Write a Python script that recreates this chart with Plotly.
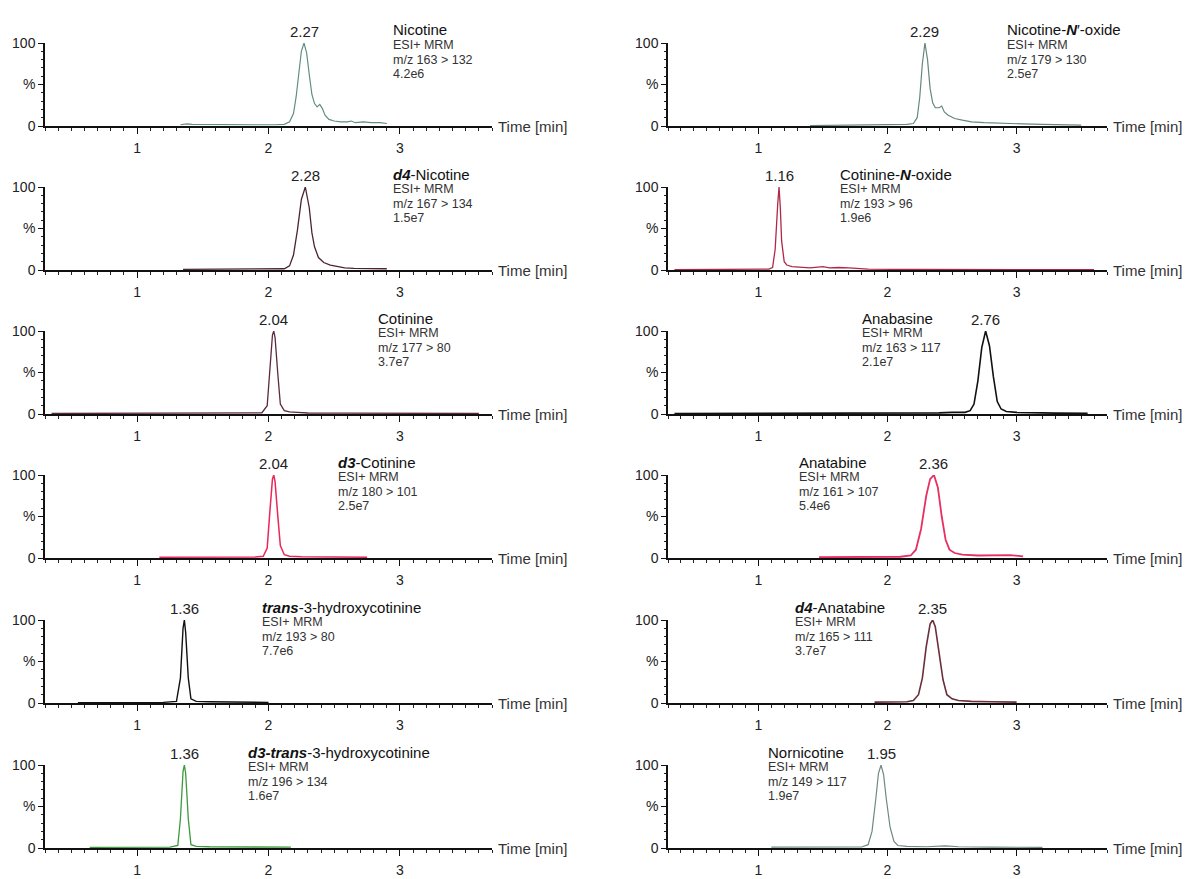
import plotly.graph_objects as go

# ---------------------------------------------------------------
# Extracted-ion chromatograms (ESI+ MRM), relative intensity in %
# ---------------------------------------------------------------

compound_names = [
    "Nicotine", "Nicotine-<b><i>N</i></b>′-oxide",
    "<b><i>d4</i></b>-Nicotine", "Cotinine-<b><i>N</i></b>-oxide",
    "Cotinine", "Anabasine",
    "<b><i>d3</i></b>-Cotinine", "Anatabine",
    "<b><i>trans</i></b>-3-hydroxycotinine", "<b><i>d4</i></b>-Anatabine",
    "<b><i>d3-trans</i></b>-3-hydroxycotinine", "Nornicotine",
]
transitions = [
    "163 > 132", "179 > 130",
    "167 > 134", "193 > 96",
    "177 > 80", "163 > 117",
    "180 > 101", "161 > 107",
    "193 > 80", "165 > 111",
    "196 > 134", "149 > 117",
]
abundances = [
    "4.2e6", "2.5e7",
    "1.5e7", "1.9e6",
    "3.7e7", "2.1e7",
    "2.5e7", "5.4e6",
    "7.7e6", "3.7e7",
    "1.6e7", "1.9e7",
]
retention_times = [2.27, 2.29, 2.28, 1.16, 2.04, 2.76, 2.04, 2.36, 1.36, 2.35, 1.36, 1.95]

x_ticks = [1, 2, 3]
y_ticks = [0, 50, 100]
y_tick_text = ["0", "%", "100"]

# chromatogram traces: time [min] / relative abundance [%]
t_nicotine = [1.33, 1.38, 1.42, 1.50, 1.70, 1.90, 2.05, 2.12, 2.16, 2.19, 2.21, 2.23, 2.25, 2.27,
              2.29, 2.31, 2.33, 2.35, 2.37, 2.39, 2.41, 2.43, 2.46, 2.50, 2.55, 2.60, 2.63, 2.66,
              2.72, 2.78, 2.85, 2.90]
i_nicotine = [1.5, 2.5, 2.0, 1.8, 1.5, 1.5, 1.5, 2.0, 5, 15, 35, 65, 90, 100,
              88, 62, 38, 27, 23, 26, 21, 13, 8, 6, 5, 5, 6, 4,
              5, 4, 4, 3]

t_nicotine_oxide = [1.40, 1.60, 1.80, 1.95, 2.05, 2.15, 2.20, 2.23, 2.25, 2.27, 2.29, 2.31, 2.33,
                    2.35, 2.37, 2.40, 2.42, 2.44, 2.47, 2.52, 2.58, 2.65, 2.75, 2.90, 3.05, 3.20,
                    3.35, 3.50]
i_nicotine_oxide = [0.5, 0.8, 1.0, 1.2, 1.5, 2, 3, 10, 35, 75, 100, 80, 45,
                    28, 22, 22, 24, 17, 13, 9, 7, 5, 4, 3, 2.5, 2,
                    1.5, 1]

t_d4_nicotine = [1.35, 1.50, 1.70, 1.90, 2.05, 2.12, 2.16, 2.19, 2.22, 2.25, 2.28, 2.31, 2.33,
                 2.35, 2.38, 2.42, 2.47, 2.52, 2.58, 2.65, 2.75, 2.85, 2.90]
i_d4_nicotine = [0.8, 0.8, 0.8, 0.8, 1.0, 1.5, 5, 18, 48, 85, 100, 75, 45,
                 28, 15, 9, 6, 4, 2.5, 2, 1.5, 1.5, 1.5]

t_cotinine_oxide = [0.35, 0.60, 0.80, 1.00, 1.08, 1.11, 1.13, 1.15, 1.16, 1.17, 1.18, 1.20, 1.22,
                    1.26, 1.32, 1.40, 1.46, 1.50, 1.55, 1.62, 1.70, 1.78, 1.85, 2.20, 2.80, 3.60]
i_cotinine_oxide = [0.5, 0.5, 0.5, 0.6, 1, 3, 25, 80, 100, 75, 35, 10, 6,
                    4, 3, 2.5, 3.5, 4, 2.5, 3, 2.5, 2, 1, 0.6, 0.5, 0.5]

t_cotinine = [0.35, 0.70, 1.00, 1.30, 1.60, 1.85, 1.95, 1.99, 2.01, 2.03, 2.04, 2.05, 2.07,
              2.09, 2.12, 2.16, 2.22, 2.30, 2.60, 3.00, 3.60]
i_cotinine = [0.6, 0.6, 0.7, 0.8, 0.8, 1.0, 1.5, 10, 55, 95, 100, 92, 50,
              12, 4, 2.5, 2, 1.2, 1, 0.8, 0.6]

t_anabasine = [0.35, 0.80, 1.30, 1.80, 2.10, 2.40, 2.50, 2.60, 2.64, 2.67, 2.70, 2.73, 2.76,
               2.79, 2.82, 2.85, 2.88, 2.92, 3.00, 3.10, 3.30, 3.55]
i_anabasine = [0.5, 0.5, 0.6, 1.0, 1.2, 1.3, 2.0, 2.0, 4, 12, 40, 80, 100,
               82, 45, 15, 6, 3, 2, 1.5, 1.0, 0.8]

t_d3_cotinine = [1.17, 1.40, 1.70, 1.90, 1.96, 1.99, 2.01, 2.03, 2.04, 2.05, 2.07, 2.09, 2.12,
                 2.16, 2.25, 2.45, 2.75]
i_d3_cotinine = [1.0, 1.0, 1.0, 1.2, 2, 12, 55, 95, 100, 92, 52, 15, 4,
                 2, 1.5, 1.2, 1.0]

t_anatabine = [1.47, 1.70, 1.95, 2.10, 2.18, 2.22, 2.26, 2.30, 2.33, 2.36, 2.39, 2.42, 2.45,
               2.48, 2.52, 2.58, 2.70, 2.85, 2.95, 3.05]
i_anatabine = [1.0, 1.2, 2.0, 1.5, 3, 10, 35, 75, 95, 100, 85, 50, 22,
               10, 6, 4, 3, 3, 3.5, 2]

t_hydroxycotinine = [0.55, 0.80, 1.00, 1.20, 1.30, 1.33, 1.35, 1.36, 1.37, 1.39, 1.41, 1.45,
                     1.55, 1.80, 2.00]
i_hydroxycotinine = [0.5, 0.5, 0.6, 0.8, 2, 30, 90, 100, 85, 30, 5, 2,
                     1.5, 1, 0.8]

t_d4_anatabine = [1.90, 2.05, 2.15, 2.20, 2.24, 2.27, 2.30, 2.33, 2.35, 2.37, 2.40, 2.43, 2.46,
                  2.50, 2.55, 2.65, 2.80, 3.00]
i_d4_anatabine = [1.0, 1.0, 1.5, 3, 10, 30, 68, 95, 100, 92, 60, 28, 10,
                  5, 3, 2, 1.5, 1.0]

t_d3_hydroxycotinine = [0.64, 0.90, 1.10, 1.25, 1.31, 1.33, 1.35, 1.36, 1.37, 1.39, 1.41, 1.45,
                        1.55, 1.75, 1.95, 2.17]
i_d3_hydroxycotinine = [0.8, 0.8, 0.8, 1.0, 3, 35, 92, 100, 90, 35, 4, 2,
                        1.5, 1.2, 1.5, 1.0]

t_nornicotine = [1.10, 1.40, 1.70, 1.80, 1.85, 1.88, 1.91, 1.93, 1.95, 1.97, 1.99, 2.02, 2.05,
                 2.08, 2.15, 2.30, 2.45, 2.55, 2.80, 3.20]
i_nornicotine = [1.0, 1.0, 1.0, 1.2, 4, 20, 60, 90, 100, 88, 60, 25, 8,
                 3, 2, 1.5, 2.5, 1.5, 1.0, 0.8]

traces = [
    (t_nicotine, i_nicotine), (t_nicotine_oxide, i_nicotine_oxide),
    (t_d4_nicotine, i_d4_nicotine), (t_cotinine_oxide, i_cotinine_oxide),
    (t_cotinine, i_cotinine), (t_anabasine, i_anabasine),
    (t_d3_cotinine, i_d3_cotinine), (t_anatabine, i_anatabine),
    (t_hydroxycotinine, i_hydroxycotinine), (t_d4_anatabine, i_d4_anatabine),
    (t_d3_hydroxycotinine, i_d3_hydroxycotinine), (t_nornicotine, i_nornicotine),
]

# ---------------------------------------------------------------
# styling / page geometry (pixels)
# ---------------------------------------------------------------
W, H = 1190, 879
FONT = "Arial, 'Liberation Sans', sans-serif"
line_colors = [
    "#5f8f7f", "#66887a",
    "#4a2530", "#b02848",
    "#5a2a40", "#111111",
    "#e8285a", "#e63062",
    "#111111", "#6a2f3a",
    "#3c9a3c", "#6f8a7c",
]
line_widths = [1.2, 1.2, 1.3, 1.3, 1.3, 1.6, 1.5, 1.8, 1.4, 1.6, 1.3, 1.2]
col_px = [(45, 492), (668, 1107)]
row_top_px = [43, 187, 331, 475, 620, 765]
plot_h_px = 83
name_left_px = [391, 1005, 391, 838, 376, 860, 336, 797, 260, 793, 246, 766]
x_range = [0.3, 3.7]


def px_x(px):
    return px / W


def px_y(py):
    return 1 - py / H


fig = go.Figure()
annotations = []
layout_axes = {}

for k, ((t, inten), rt) in enumerate(zip(traces, retention_times)):
    row, col = divmod(k, 2)
    n = k + 1
    xa, ya = f"x{n}", f"y{n}"
    x0, x1 = col_px[col]
    top = row_top_px[row]
    bottom = top + plot_h_px

    fig.add_trace(go.Scatter(
        x=t, y=inten, mode="lines", xaxis=xa, yaxis=ya,
        line=dict(color=line_colors[k], width=line_widths[k]),
        showlegend=False, hoverinfo="x+y",
    ))

    suffix = "" if n == 1 else str(n)
    layout_axes[f"xaxis{suffix}"] = dict(
        domain=[px_x(x0), px_x(x1)], anchor=ya, range=x_range,
        automargin=False,
        showline=True, linecolor="#111", linewidth=1.5, mirror=False,
        showgrid=False, zeroline=False,
        tickmode="array", tickvals=x_ticks, ticks="outside", ticklen=6,
        tickwidth=1.3, tickcolor="#111", ticklabelstandoff=2,
        tickfont=dict(family=FONT, size=14, color="#222"),
        minor=dict(dtick=0.1, tick0=0, ticks="outside", ticklen=3.5,
                   tickwidth=1, tickcolor="#222", showgrid=False),
        fixedrange=True,
    )
    layout_axes[f"yaxis{suffix}"] = dict(
        domain=[px_y(bottom), px_y(top)], anchor=xa, range=[0, 100],
        automargin=False,
        showline=True, linecolor="#111", linewidth=1.5,
        showgrid=False, zeroline=False,
        tickmode="array", tickvals=y_ticks, ticktext=y_tick_text,
        ticks="outside", ticklen=5, tickwidth=1.3, tickcolor="#111",
        tickfont=dict(family=FONT, size=14, color="#222"),
        minor=dict(dtick=10, tick0=0, ticks="outside", ticklen=2.5,
                   tickwidth=1, tickcolor="#222", showgrid=False),
        fixedrange=True,
    )

    # retention time above the apex
    annotations.append(dict(
        x=rt, xref=xa, y=px_y(top - 12), yref="paper",
        text=f"{rt:.2f}", showarrow=False, xanchor="center", yanchor="middle",
        font=dict(family=FONT, size=15, color="#222"),
    ))
    # compound block
    nx = px_x(name_left_px[k])
    annotations.append(dict(
        x=nx, xref="paper", y=px_y(top - 13), yref="paper",
        text=compound_names[k], showarrow=False, xanchor="left", yanchor="middle",
        font=dict(family=FONT, size=15, color="#111"),
    ))
    for dy, txt in ((2, "ESI+ MRM"), (17, f"m/z {transitions[k]}"), (31, abundances[k])):
        annotations.append(dict(
            x=nx, xref="paper", y=px_y(top + dy), yref="paper",
            text=txt, showarrow=False, xanchor="left", yanchor="middle",
            font=dict(family=FONT, size=12.5, color="#333"),
        ))
    # axis title at the end of the time axis
    annotations.append(dict(
        x=px_x(x1 + 4), xref="paper", y=px_y(bottom), yref="paper",
        text="Time [min]", showarrow=False, xanchor="left", yanchor="middle",
        font=dict(family=FONT, size=15, color="#333"),
    ))

fig.update_layout(
    width=W, height=H,
    margin=dict(l=0, r=0, t=0, b=0),
    paper_bgcolor="white", plot_bgcolor="white",
    font=dict(family=FONT),
    annotations=annotations,
    **layout_axes,
)

fig.write_html("out.html")
